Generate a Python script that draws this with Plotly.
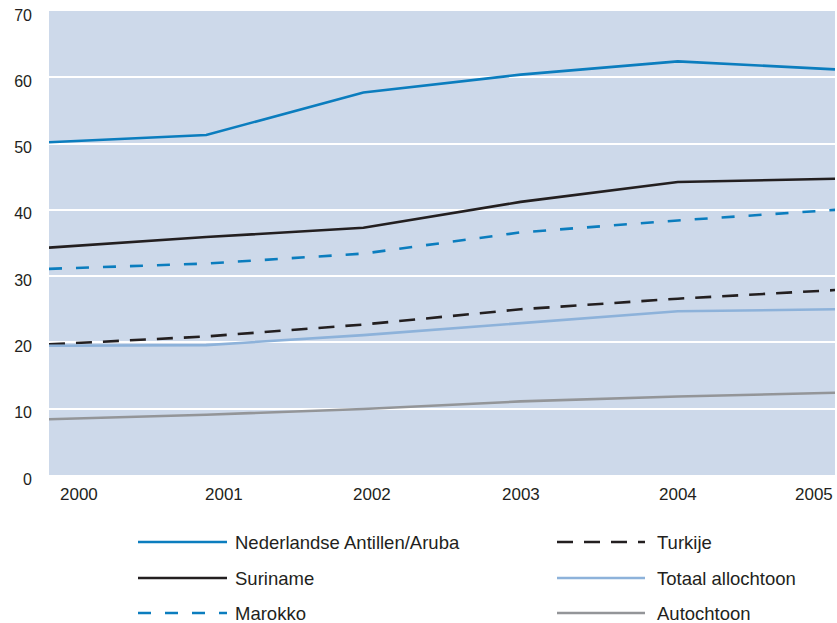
import plotly.graph_objects as go

# Data
jaren = [2000, 2001, 2002, 2003, 2004, 2005]
antillen = [50.2, 51.3, 57.7, 60.4, 62.4, 61.2]
suriname = [34.3, 35.9, 37.3, 41.2, 44.2, 44.7]
marokko = [31.1, 31.9, 33.4, 36.6, 38.4, 40.0]
turkije = [19.7, 20.9, 22.7, 25.0, 26.6, 27.9]
totaal = [19.5, 19.6, 21.1, 22.9, 24.7, 25.0]
autochtoon = [8.4, 9.1, 9.95, 11.1, 11.85, 12.4]
y_ticks = [0, 10, 20, 30, 40, 50, 60, 70]

BLAUW = '#0b7dbe'
ZWART = '#231f20'
LICHTBLAUW = '#8db2da'
GRIJS = '#939598'
DASH_BLAUW = '13px,14px'
DASH_ZWART = '16px,11px'

series = [
    ('Nederlandse Antillen/Aruba', antillen, BLAUW, 'solid'),
    ('Suriname', suriname, ZWART, 'solid'),
    ('Marokko', marokko, BLAUW, DASH_BLAUW),
    ('Turkije', turkije, ZWART, DASH_ZWART),
    ('Totaal allochtoon', totaal, LICHTBLAUW, 'solid'),
    ('Autochtoon', autochtoon, GRIJS, 'solid'),
]

W, H = 837, 623
L, R, T, B = 49, 2, 11, 148
pw, ph = W - L - R, H - T - B

fig = go.Figure()
for naam, waarden, kleur, dash in series:
    fig.add_trace(go.Scatter(
        x=jaren, y=waarden, mode='lines', name=naam,
        line=dict(color=kleur, width=2.6, dash=dash),
        showlegend=False,
    ))

# x-as labels als annotaties (zoals in het origineel verschoven)
verschuiving = {2000: ('left', 9), 2001: ('center', 18), 2002: ('center', 9),
                2003: ('center', 0), 2004: ('center', 0), 2005: ('right', 0)}
for j in jaren:
    anchor, dx = verschuiving[j]
    fig.add_annotation(x=j, y=0, xref='x', yref='paper', text=str(j),
                       showarrow=False, xanchor=anchor, yanchor='middle',
                       xshift=dx, yshift=-19,
                       font=dict(size=17, color=ZWART))

# Legenda handmatig (lange lijnstukken); posities in pixels
def px2paper(px, py):
    return (px - L) / pw, (H - B - py) / ph

legenda = [
    (series[0], 138, 227, 233, 542),
    (series[1], 138, 227, 233, 578),
    (series[2], 138, 227, 233, 613),
    (series[3], 557, 645, 655, 542),
    (series[4], 557, 645, 655, 578),
    (series[5], 557, 645, 655, 613),
]
for (naam, _, kleur, dash), x0, x1, xt, yy in legenda:
    a0, b0 = px2paper(x0, yy)
    a1, _ = px2paper(x1, yy)
    at, _ = px2paper(xt, yy)
    fig.add_shape(type='line', xref='paper', yref='paper',
                  x0=a0, x1=a1, y0=b0, y1=b0,
                  line=dict(color=kleur, width=2.6, dash=dash))
    fig.add_annotation(x=at, y=b0, xref='paper', yref='paper', text=naam,
                       showarrow=False, xanchor='left', yanchor='middle',
                       font=dict(size=18.5, color=ZWART))

fig.update_layout(
    width=W, height=H,
    margin=dict(l=L, r=R, t=T, b=B),
    paper_bgcolor='white',
    plot_bgcolor='#cdd9ea',
    font=dict(family='Liberation Sans, Arial, sans-serif', color=ZWART),
    xaxis=dict(range=[2000, 2005], showgrid=False, zeroline=False,
               showticklabels=False, showline=False),
    yaxis=dict(range=[0, 70], tickvals=y_ticks, showgrid=True,
               gridcolor='white', gridwidth=2, zeroline=False,
               showline=False, ticklabelstandoff=16,
               ticklabelshift=4, ticklabeloverflow='allow',
               tickfont=dict(size=16, color=ZWART)),
)

# paginamarge weghalen zodat de figuur op (0,0) staat
fig.write_html('out.html', config={'displayModeBar': False},
               post_script="document.body.style.margin='0';")
